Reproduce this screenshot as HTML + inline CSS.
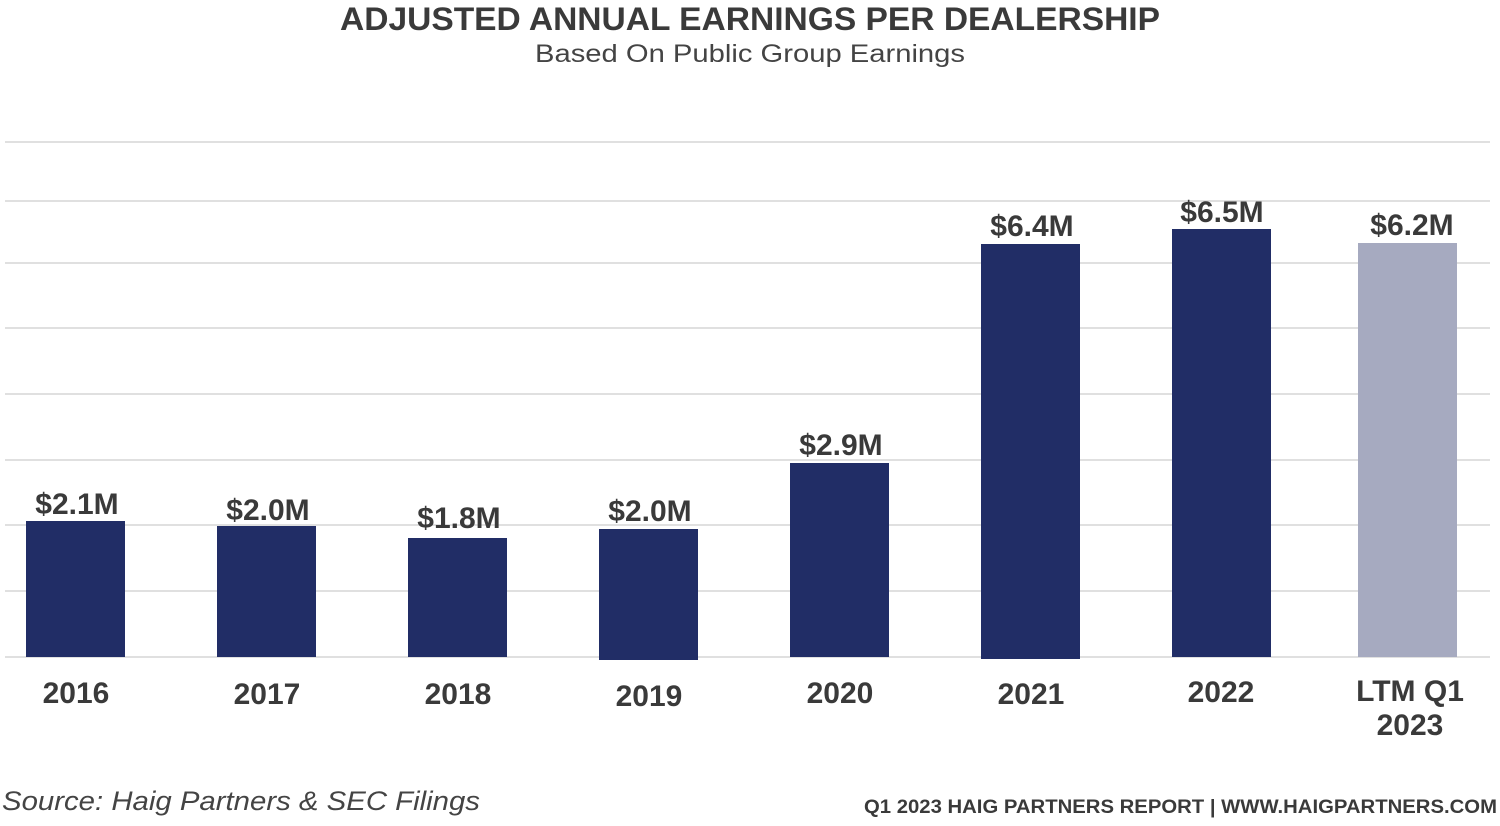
<!DOCTYPE html>
<html><head><meta charset="utf-8"><style>
html,body{margin:0;padding:0;background:#fff;}
svg{display:block;font-family:"Liberation Sans",sans-serif;}
</style></head><body>
<svg width="1500" height="826" viewBox="0 0 1500 826" xmlns="http://www.w3.org/2000/svg">
<text x="750" y="30" text-anchor="middle" font-size="32" font-weight="bold" fill="#3a3a3a" textLength="820" lengthAdjust="spacingAndGlyphs">ADJUSTED ANNUAL EARNINGS PER DEALERSHIP</text>
<text x="750" y="62" text-anchor="middle" font-size="25" fill="#444" textLength="430" lengthAdjust="spacingAndGlyphs">Based On Public Group Earnings</text>
<g stroke="#d6d6d6" stroke-width="1.5">
<line x1="5" x2="1490" y1="142" y2="142"/>
<line x1="5" x2="1490" y1="201" y2="201"/>
<line x1="5" x2="1490" y1="263" y2="263"/>
<line x1="5" x2="1490" y1="328" y2="328"/>
<line x1="5" x2="1490" y1="394" y2="394"/>
<line x1="5" x2="1490" y1="460" y2="460"/>
<line x1="5" x2="1490" y1="525" y2="525"/>
<line x1="5" x2="1490" y1="591" y2="591"/>
<line x1="5" x2="1490" y1="657" y2="657"/>
</g>
<g fill="#212d66">
<rect x="26" y="521" width="99" height="136"/>
<rect x="217" y="526" width="99" height="131"/>
<rect x="408" y="538" width="99" height="119"/>
<rect x="599" y="529" width="99" height="131"/>
<rect x="790" y="463" width="99" height="194"/>
<rect x="981" y="244" width="99" height="415"/>
<rect x="1172" y="229" width="99" height="428"/>
</g>
<rect x="1358" y="243" width="99" height="414" fill="#a6aac0"/>
<g font-size="30" font-weight="bold" fill="#3a3a3a" text-anchor="middle">
<text x="77" y="514">$2.1M</text>
<text x="268" y="520">$2.0M</text>
<text x="459" y="528">$1.8M</text>
<text x="650" y="521">$2.0M</text>
<text x="841" y="455">$2.9M</text>
<text x="1032" y="236">$6.4M</text>
<text x="1222" y="222">$6.5M</text>
<text x="1412" y="235">$6.2M</text>
<text x="76" y="703">2016</text>
<text x="267" y="704">2017</text>
<text x="458" y="704">2018</text>
<text x="649" y="706">2019</text>
<text x="840" y="703">2020</text>
<text x="1031" y="704">2021</text>
<text x="1221" y="702">2022</text>
<text x="1410" y="701">LTM Q1</text>
<text x="1410" y="735">2023</text>
</g>
<text x="2" y="810" font-size="27" font-style="italic" fill="#444" textLength="478" lengthAdjust="spacingAndGlyphs">Source: Haig Partners &amp; SEC Filings</text>
<text x="864" y="813" font-size="19.5" font-weight="bold" fill="#3a3a3a" textLength="633" lengthAdjust="spacingAndGlyphs">Q1 2023 HAIG PARTNERS REPORT | WWW.HAIGPARTNERS.COM</text>
</svg>
</body></html>
